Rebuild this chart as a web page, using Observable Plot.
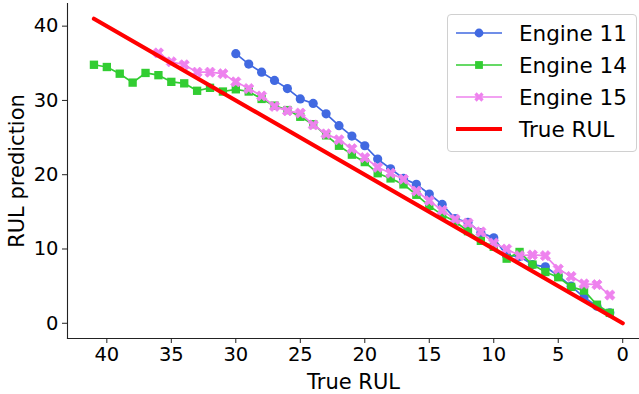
<!DOCTYPE html>
<html>
<head>
<meta charset="utf-8">
<script src="https://cdn.jsdelivr.net/npm/d3@7"></script>
<script src="https://cdn.jsdelivr.net/npm/@observablehq/plot@0.6"></script>
<style>
  body { margin: 0; background: #fff; }
  #wrap { position: relative; width: 639px; height: 394px; font-family: "DejaVu Sans", sans-serif; }
  #legend { position: absolute; left: 447px; top: 14px; width: 190px; height: 138px; box-sizing: border-box;
    border: 1px solid #d0d0d0; border-radius: 4px; background: rgba(255,255,255,0.85); }
  .row { position: absolute; left: 8px; height: 30px; display: flex; align-items: center; }
  .row span { margin-left: 17px; font-size: 21.5px; color: #000; }
  g[aria-label="x-axis tick label"] text, g[aria-label="y-axis tick label"] text { font-size: 19.5px; }
  g[aria-label="x-axis label"] text, g[aria-label="y-axis label"] text { font-size: 21px; }
</style>
</head>
<body>
<div id="wrap"><div id="chart"></div><div id="legend"></div></div>
<script>
// ---- data ----
const rul11 = [30,29,28,27,26,25,24,23,22,21,20,19,18,17,16,15,14,13,12,11,10,9,8,7,6,5,4,3,2,1];
const pred11 = [36.3,34.9,33.8,32.7,31.6,30.2,29.6,28.2,26.6,25.2,23.9,22.1,20.8,19.5,18.7,17.4,16.0,14.1,13.6,12.2,11.5,9.1,9.0,7.9,7.6,6.4,5.0,3.5,2.3,1.4];

const rul14 = [41,40,39,38,37,36,35,34,33,32,31,30,29,28,27,26,25,24,23,22,21,20,19,18,17,16,15,14,13,12,11,10,9,8,7,6,5,4,3,2,1];
const pred14 = [34.8,34.5,33.6,32.4,33.7,33.4,32.5,32.3,31.3,31.7,31.2,31.5,31.2,30.2,29.3,28.7,27.8,26.8,25.3,23.9,22.7,21.7,20.2,19.5,18.7,17.3,15.8,14.6,13.7,12.4,11.1,10.3,8.7,9.6,7.9,6.9,6.2,4.9,4.4,2.5,1.4];

const rul15 = [36,35,34,33,32,31,30,29,28,27,26,25,24,23,22,21,20,19,18,17,16,15,14,13,12,11,10,9,8,7,6,5,4,3,2,1];
const pred15 = [36.4,35.2,34.8,33.8,33.8,33.6,32.5,31.6,30.6,29.2,28.6,28.3,26.7,25.5,24.7,23.5,22.3,21.0,20.2,19.4,17.8,16.5,15.2,14.0,13.5,12.3,10.8,10.0,9.1,9.2,9.1,7.3,6.3,5.3,5.2,3.8];

const trueX = [41, 0];
const trueY = [41, 0];

const xTicks = [40,35,30,25,20,15,10,5,0];
const yTicks = [0,10,20,30,40];

const seriesNames = ["Engine 11","Engine 14","Engine 15","True RUL"];
const colors = ["#4169E1","#32CD32","#EE82EE","#FF0000"];

// ---- build tables ----
const e11 = rul11.map((x,i)=>({x, y: pred11[i]}));
const e14 = rul14.map((x,i)=>({x, y: pred14[i]}));
const e15 = rul15.map((x,i)=>({x, y: pred15[i]}));
const tr = trueX.map((x,i)=>({x, y: trueY[i]}));

// filled "X" marker like matplotlib
const xSymbol = {
  draw(ctx, size) {
    const r = Math.sqrt(size) * 0.6;
    const w = r * 0.5;
    const pts = [[w,0],[r,r-w],[r-w,r],[0,w],[-(r-w),r],[-r,r-w],[-w,0],[-r,-(r-w)],[-(r-w),-r],[0,-w],[r-w,-r],[r,-(r-w)]];
    ctx.moveTo(pts[0][0], pts[0][1]);
    for (let i = 1; i < pts.length; i++) ctx.lineTo(pts[i][0], pts[i][1]);
    ctx.closePath();
  }
};

const chart = Plot.plot({
  width: 639,
  height: 394,
  marginLeft: 67,
  marginRight: 0,
  marginTop: 3,
  marginBottom: 56,
  style: { fontFamily: "DejaVu Sans, sans-serif", fontSize: "19px", color: "#000", background: "#fff" },
  x: { domain: [43.05, -1.3] },
  y: { domain: [-2.05, 43.05] },
  marks: [
    Plot.frame({ anchor: "left", stroke: "#222", strokeWidth: 1.1 }),
    Plot.frame({ anchor: "bottom", stroke: "#222", strokeWidth: 1.1 }),
    Plot.axisX({ ticks: xTicks, tickSize: 5, tickPadding: 4, fontSize: 19, label: "True RUL", labelAnchor: "center", labelArrow: false, labelOffset: 50, stroke: "#222" }),
    Plot.axisY({ ticks: yTicks, tickSize: 5, tickPadding: 4, fontSize: 19, label: "RUL prediction", labelAnchor: "center", labelArrow: false, labelOffset: 58, stroke: "#222" }),
    Plot.line(e11, { x: "x", y: "y", stroke: colors[0], strokeWidth: 1.7 }),
    Plot.dot(e11, { x: "x", y: "y", fill: colors[0], r: 4.6, symbol: "circle" }),
    Plot.line(e14, { x: "x", y: "y", stroke: colors[1], strokeWidth: 1.7 }),
    Plot.dot(e14, { x: "x", y: "y", fill: colors[1], r: 4.7, symbol: "square" }),
    Plot.line(e15, { x: "x", y: "y", stroke: colors[2], strokeWidth: 1.7 }),
    Plot.dot(e15, { x: "x", y: "y", fill: colors[2], stroke: colors[2], strokeWidth: 0.8, r: 4.8, symbol: xSymbol }),
    Plot.line(tr, { x: "x", y: "y", stroke: colors[3], strokeWidth: 4.2 })
  ]
});
document.getElementById("chart").appendChild(chart);

// ---- legend ----
const legend = document.getElementById("legend");
const markers = ["circle", "square", "x", null];
const rowTops = [3, 35, 67, 99];
seriesNames.forEach((name, i) => {
  const row = document.createElement("div");
  row.className = "row";
  row.style.top = rowTops[i] + "px";
  const ns = "http://www.w3.org/2000/svg";
  const svg = document.createElementNS(ns, "svg");
  svg.setAttribute("width", 46); svg.setAttribute("height", 14);
  const line = document.createElementNS(ns, "line");
  line.setAttribute("x1", 0); line.setAttribute("x2", 46); line.setAttribute("y1", 7); line.setAttribute("y2", 7);
  line.setAttribute("stroke", colors[i]); line.setAttribute("stroke-width", i === 3 ? 4.2 : 1.7);
  svg.appendChild(line);
  if (markers[i]) {
    const p = document.createElementNS(ns, "path");
    const type = markers[i] === "circle" ? d3.symbolCircle : markers[i] === "square" ? d3.symbolSquare : xSymbol;
    p.setAttribute("d", d3.symbol(type, Math.PI * 4.4 * 4.4)());
    p.setAttribute("transform", "translate(23,7)");
    p.setAttribute("fill", colors[i]);
    svg.appendChild(p);
  }
  row.appendChild(svg);
  const t = document.createElement("span");
  t.textContent = name;
  row.appendChild(t);
  legend.appendChild(row);
});
</script>
</body>
</html>
